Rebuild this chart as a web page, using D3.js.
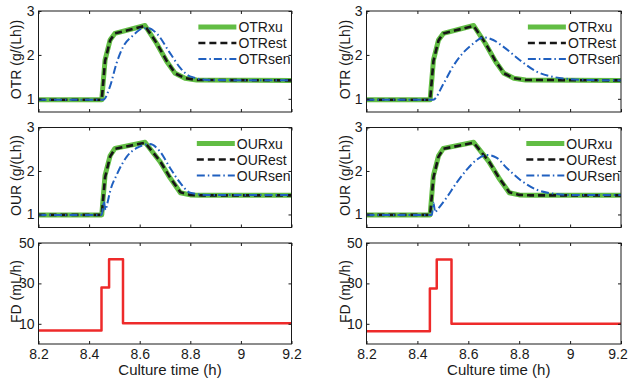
<!DOCTYPE html>
<html>
<head>
<meta charset="utf-8">
<script src="https://cdn.jsdelivr.net/npm/d3@7"></script>
<style>
  html, body { margin: 0; padding: 0; background: #fff; }
  svg { display: block; }
</style>
</head>
<body>
<svg id="chart" width="629" height="383"></svg>
<script>
// ---- data ----
const xTickValues = [8.2, 8.4, 8.6, 8.8, 9.0, 9.2];
const xTickLabels = ["8.2", "8.4", "8.6", "8.8", "9", "9.2"];
const rateTicks = [1, 2, 3];
const feedTicks = [10, 30, 50];

const otrLegend = ["OTRxu", "OTRest", "OTRsen"];
const ourLegend = ["OURxu", "OURest", "OURsen"];

// actual (xu) and estimated (est) rates, same for both columns
const otrTime = [8.2, 8.45, 8.463, 8.483, 8.502, 8.621, 8.667, 8.707, 8.74, 8.779, 8.825, 9.2];
const otrXu   = [0.98, 0.98, 1.88, 2.34, 2.49, 2.67, 2.26, 1.85, 1.58, 1.47, 1.43, 1.42];
const otrEst  = [0.98, 0.98, 1.86, 2.33, 2.49, 2.66, 2.27, 1.86, 1.58, 1.47, 1.43, 1.42];

const ourTime = [8.2, 8.45, 8.463, 8.483, 8.502, 8.621, 8.68, 8.72, 8.761, 8.80, 8.84, 9.2];
const ourXu   = [0.99, 0.99, 1.90, 2.35, 2.52, 2.66, 2.22, 1.84, 1.50, 1.45, 1.44, 1.44];
const ourEst  = [0.99, 0.99, 1.85, 2.33, 2.51, 2.65, 2.23, 1.85, 1.51, 1.45, 1.44, 1.44];

// sensor readings, left column (fast sensor)
const otrSenTimeL = [8.2, 8.456, 8.483, 8.509, 8.535, 8.575, 8.61, 8.635, 8.667, 8.72, 8.761, 8.799, 8.878, 9.2];
const otrSenL     = [0.98, 0.98, 1.29, 1.82, 2.19, 2.45, 2.60, 2.61, 2.49, 2.04, 1.70, 1.51, 1.43, 1.42];
const ourSenTimeL = [8.2, 8.45, 8.458, 8.465, 8.472, 8.483, 8.509, 8.549, 8.589, 8.641, 8.68, 8.72, 8.761, 8.799, 8.865, 9.2];
const ourSenL     = [0.99, 0.99, 1.30, 1.10, 1.25, 1.53, 1.91, 2.33, 2.53, 2.62, 2.45, 2.07, 1.72, 1.50, 1.45, 1.45];

// sensor readings, right column (slow sensor)
const otrSenTimeR = [8.2, 8.462, 8.502, 8.541, 8.58, 8.62, 8.659, 8.698, 8.737, 8.803, 8.868, 8.933, 9.0, 9.065, 9.2];
const otrSenR     = [0.98, 0.98, 1.34, 1.75, 2.05, 2.26, 2.40, 2.34, 2.19, 1.88, 1.62, 1.50, 1.45, 1.43, 1.42];
const ourSenTimeR = [8.2, 8.457, 8.463, 8.47, 8.477, 8.515, 8.554, 8.594, 8.633, 8.672, 8.712, 8.751, 8.803, 8.868, 8.933, 9.0, 9.2];
const ourSenR     = [0.99, 0.99, 1.27, 1.05, 1.10, 1.39, 1.73, 2.03, 2.26, 2.37, 2.30, 2.07, 1.80, 1.57, 1.48, 1.45, 1.45];

// feed rate (step changes)
const fdTimeL = [8.2, 8.449, 8.479, 8.534, 9.2];
const fdL     = [6.7, 28, 42, 10.3, 10.3];
const fdTimeR = [8.2, 8.449, 8.476, 8.534, 9.2];
const fdR     = [6.3, 27.5, 41.8, 10, 10];

// ---- layout ----
const svg = d3.select("#chart");
const font = "'Liberation Sans', Arial, sans-serif";
const ink = "#1a1a1a";
const colors = { xu: "#62bd44", est: "#161616", sen: "#2060c0", fd: "#ee2a2a" };

const columns = [
  { left: 38.5, right: 291.5, labelX: 20.5 },
  { left: 366.5, right: 621, labelX: 349.5 }
];
const rows = [
  { top: 11, bottom: 112, domain: [0.7, 3], ticks: rateTicks, label: "OTR (g/(Lh))" },
  { top: 127.5, bottom: 227.5, domain: [0.7, 3], ticks: rateTicks, label: "OUR (g/(Lh))" },
  { top: 243, bottom: 344, domain: [0, 50], ticks: feedTicks, label: "FD (mL/h)" }
];

const zip = (ts, vs) => ts.map((t, i) => ({ t: t, v: vs[i] }));

const panels = [
  { col: 0, row: 0, legend: otrLegend, series: [
      { d: zip(otrTime, otrXu), kind: "xu" },
      { d: zip(otrTime, otrEst), kind: "est" },
      { d: zip(otrSenTimeL, otrSenL), kind: "sen" } ] },
  { col: 1, row: 0, legend: otrLegend, series: [
      { d: zip(otrTime, otrXu), kind: "xu" },
      { d: zip(otrTime, otrEst), kind: "est" },
      { d: zip(otrSenTimeR, otrSenR), kind: "sen" } ] },
  { col: 0, row: 1, legend: ourLegend, series: [
      { d: zip(ourTime, ourXu), kind: "xu" },
      { d: zip(ourTime, ourEst), kind: "est" },
      { d: zip(ourSenTimeL, ourSenL), kind: "sen" } ] },
  { col: 1, row: 1, legend: ourLegend, series: [
      { d: zip(ourTime, ourXu), kind: "xu" },
      { d: zip(ourTime, ourEst), kind: "est" },
      { d: zip(ourSenTimeR, ourSenR), kind: "sen" } ] },
  { col: 0, row: 2, series: [ { d: zip(fdTimeL, fdL), kind: "fd" } ] },
  { col: 1, row: 2, series: [ { d: zip(fdTimeR, fdR), kind: "fd" } ] }
];

const lineStyle = {
  xu:  { width: 5, dash: null },
  est: { width: 2.6, dash: "7,4" },
  sen: { width: 2, dash: "8,3,1.5,3" },
  fd:  { width: 2.5, dash: null }
};

panels.forEach((p, pi) => {
  const c = columns[p.col], r = rows[p.row];
  const w = c.right - c.left, h = r.bottom - r.top;

  const x = d3.scaleLinear().domain([8.2, 9.2]).range([0, w]);
  const y = d3.scaleLinear().domain(r.domain).range([h, 0]);

  const g = svg.append("g").attr("transform", `translate(${c.left},${r.top})`);

  g.append("clipPath").attr("id", "clip" + pi)
    .append("rect").attr("width", w).attr("height", h);

  // data lines
  const plot = g.append("g").attr("clip-path", `url(#clip${pi})`);
  p.series.forEach(s => {
    const line = d3.line()
      .x(d => x(d.t))
      .y(d => y(d.v))
      .curve(s.kind === "fd" ? d3.curveStepAfter
           : s.kind === "sen" ? d3.curveMonotoneX : d3.curveLinear);
    plot.append("path")
      .datum(s.d)
      .attr("d", line)
      .attr("fill", "none")
      .attr("stroke", colors[s.kind])
      .attr("stroke-width", lineStyle[s.kind].width)
      .attr("stroke-dasharray", lineStyle[s.kind].dash)
      .attr("stroke-linejoin", "round");
  });

  // axes: ticks inside on all four sides
  const yLeft = d3.axisLeft(y).tickValues(r.ticks).tickSizeInner(-3).tickSizeOuter(0).tickPadding(4)
    .tickFormat(d3.format("d"));
  const yRight = d3.axisRight(y).tickValues(r.ticks).tickSizeInner(-3).tickSizeOuter(0).tickFormat("");
  const xBottom = d3.axisBottom(x).tickValues(xTickValues).tickSizeInner(-3).tickSizeOuter(0).tickPadding(5)
    .tickFormat((d, i) => p.row === 2 ? xTickLabels[i] : "");
  const xTop = d3.axisTop(x).tickValues(xTickValues).tickSizeInner(-3).tickSizeOuter(0).tickFormat("");

  const axes = [
    g.append("g").call(yLeft),
    g.append("g").attr("transform", `translate(${w},0)`).call(yRight),
    g.append("g").attr("transform", `translate(0,${h})`).call(xBottom),
    g.append("g").call(xTop)
  ];
  axes.forEach(a => {
    a.select(".domain").remove();
    a.selectAll("line").attr("stroke", ink);
    a.selectAll("text")
      .attr("font-family", font)
      .attr("font-size", 14)
      .attr("fill", ink);
  });

  // keep the outermost tick label inside the window
  axes[2].selectAll("text").each(function() {
    const b = this.getBBox();
    const absRight = c.left + this.parentNode.transform.baseVal.consolidate().matrix.e + b.x + b.width;
    if (absRight > 628) d3.select(this).attr("dx", 628 - absRight);
  });

  g.append("rect")
    .attr("width", w).attr("height", h)
    .attr("fill", "none").attr("stroke", ink).attr("stroke-width", 1);

  // y label
  svg.append("text")
    .attr("transform", `translate(${c.labelX},${(r.top + r.bottom) / 2 - 2}) rotate(-90)`)
    .attr("text-anchor", "middle")
    .attr("font-family", font).attr("font-size", 14).attr("fill", ink)
    .text(r.label);

  // x label
  if (p.row === 2) {
    svg.append("text")
      .attr("x", c.left + w / 2 + 5)
      .attr("y", 375)
      .attr("text-anchor", "middle")
      .attr("font-family", font).attr("font-size", 15).attr("fill", ink)
      .text("Culture time (h)");
  }

  // legend, anchored to the right edge of the axes
  if (p.legend) {
    const lg = g.append("g");
    const texts = p.legend.map((name, i) => lg.append("text")
      .attr("y", 16 + i * 16 + 5)
      .attr("font-family", font).attr("font-size", 14).attr("fill", ink)
      .text(name));
    const maxW = d3.max(texts, t => t.node().getComputedTextLength());
    const textX = w - 1 - maxW;
    texts.forEach(t => t.attr("x", textX));
    ["xu", "est", "sen"].forEach((k, i) => {
      lg.append("line")
        .attr("x1", textX - 40).attr("x2", textX - 2)
        .attr("y1", 16 + i * 16).attr("y2", 16 + i * 16)
        .attr("stroke", colors[k])
        .attr("stroke-width", lineStyle[k].width)
        .attr("stroke-dasharray", lineStyle[k].dash);
    });
  }
});
</script>
</body>
</html>
